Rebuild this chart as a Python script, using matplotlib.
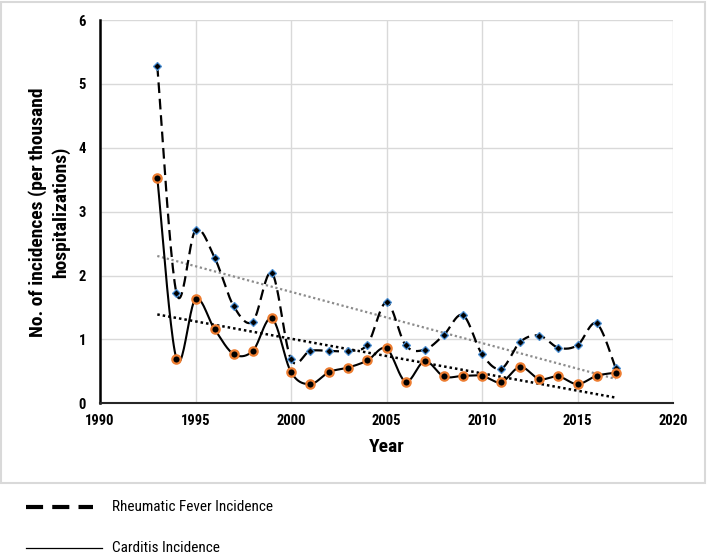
import numpy as np
import matplotlib.pyplot as plt
from matplotlib.patches import Rectangle
from matplotlib.lines import Line2D

FONT = ['Roboto Condensed', 'Lato', 'DejaVu Sans']
plt.rcParams['font.family'] = FONT

years = list(range(1993, 2018))
rheumatic = [5.28, 1.73, 2.71, 2.28, 1.52, 1.28, 2.04, 0.69, 0.82, 0.82, 0.82, 0.92, 1.58,
             0.91, 0.84, 1.07, 1.38, 0.77, 0.54, 0.96, 1.06, 0.87, 0.91, 1.25, 0.55]
carditis = [3.53, 0.70, 1.63, 1.16, 0.77, 0.82, 1.33, 0.49, 0.30, 0.49, 0.56, 0.67, 0.86,
            0.34, 0.66, 0.42, 0.43, 0.43, 0.33, 0.57, 0.38, 0.42, 0.30, 0.43, 0.48]
x_ticks = [1990, 1995, 2000, 2005, 2010, 2015, 2020]
y_ticks = [0, 1, 2, 3, 4, 5, 6]


def smooth(x, y, n=24):
    # excel style smoothed line: bezier segments through every point
    p = np.column_stack([x, y]).astype(float)
    ext = np.vstack([p[0], p, p[-1]])
    t = np.linspace(0, 1, n)[:, None]
    pts = []
    for i in range(len(p) - 1):
        p0, p3 = p[i], p[i + 1]
        c1 = p0 + (ext[i + 2] - ext[i]) / 6
        c2 = p3 - (ext[i + 3] - ext[i + 1]) / 6
        seg = ((1 - t) ** 3) * p0 + 3 * ((1 - t) ** 2) * t * c1 + 3 * (1 - t) * t ** 2 * c2 + t ** 3 * p3
        pts.append(seg)
    pts = np.vstack(pts)
    return pts[:, 0], pts[:, 1]


def trend(x, y):
    k, b = np.polyfit(x, y, 1)
    xs = np.array([x[0], x[-1]])
    return xs, k * xs + b


fig = plt.figure(figsize=(7.08, 5.56), dpi=100)
ax = fig.add_axes([100 / 708, 1 - 403.3 / 556, 573 / 708, 383.3 / 556])

# frame around the chart area
fig.patches.append(Rectangle((1 / 708, 1 - 483 / 556), 704 / 708, 481 / 556,
                             transform=fig.transFigure, fill=False,
                             edgecolor='#d9d9d9', lw=1.5))

sx, sy = smooth(years, rheumatic)
ax.plot(sx, sy, color='black', lw=1.6, dashes=(4.8, 2.6), zorder=3)
ax.plot(years, rheumatic, ls='none', marker='D', ms=4.5, mfc='black',
        mec='#4a8fd4', mew=0.9, zorder=4)

sx, sy = smooth(years, carditis)
ax.plot(sx, sy, color='black', lw=1.5, zorder=3)
ax.plot(years, carditis, ls='none', marker='o', ms=6, mfc='black',
        mec='#ed7d31', mew=1.6, zorder=5)

tx, ty = trend(years, rheumatic)
ax.plot(tx, ty, color='#8c8c8c', lw=1.6, ls=(0, (1, 1.2)), zorder=2)
tx, ty = trend(years, carditis)
ax.plot(tx, ty, color='black', lw=1.8, ls=(0, (1, 1.2)), zorder=2)

ax.set_xlim(1990, 2020)
ax.set_ylim(0, 6)
ax.set_xticks(x_ticks)
ax.set_xticklabels([str(v) for v in x_ticks], fontweight='heavy', fontsize=10.5)
ax.set_yticks(y_ticks)
ax.set_yticklabels([str(v) for v in y_ticks], fontweight='heavy', fontsize=10.5)
ax.grid(True, color='#d9d9d9', lw=1)
ax.set_axisbelow(True)
for s in ['top', 'right']:
    ax.spines[s].set_visible(False)
ax.spines['left'].set_linewidth(1.8)
ax.spines['left'].set_color('black')
ax.spines['bottom'].set_linewidth(1.5)
ax.spines['bottom'].set_color('#262626')
ax.tick_params(length=0)
ax.tick_params(axis='y', pad=10)
ax.tick_params(axis='x', pad=8)

ax.set_xlabel('Year', fontweight='bold', fontsize=14, labelpad=7)
fig.text(49 / 708, 1 - 212 / 556, 'No. of incidences (per thousand\nhospitalizations)',
         rotation=90, ha='center', va='center', multialignment='center',
         fontweight='bold', fontsize=14, linespacing=1.3)

# legend below the chart box
y1 = 1 - 506.7 / 556
fig.lines.append(Line2D([26 / 708, 93 / 708], [y1, y1], transform=fig.transFigure,
                        color='black', lw=3, dashes=(4.1, 2.2), solid_capstyle='butt',
                        dash_capstyle='butt'))
fig.text(112 / 708, y1, 'Rheumatic Fever Incidence', va='center', ha='left', fontsize=11)
y2 = 1 - 548 / 556
fig.lines.append(Line2D([26 / 708, 102 / 708], [y2, y2], transform=fig.transFigure,
                        color='black', lw=0.9))
fig.text(112 / 708, y2, 'Carditis Incidence', va='center', ha='left', fontsize=11)

fig.savefig('out.png', dpi=100)
